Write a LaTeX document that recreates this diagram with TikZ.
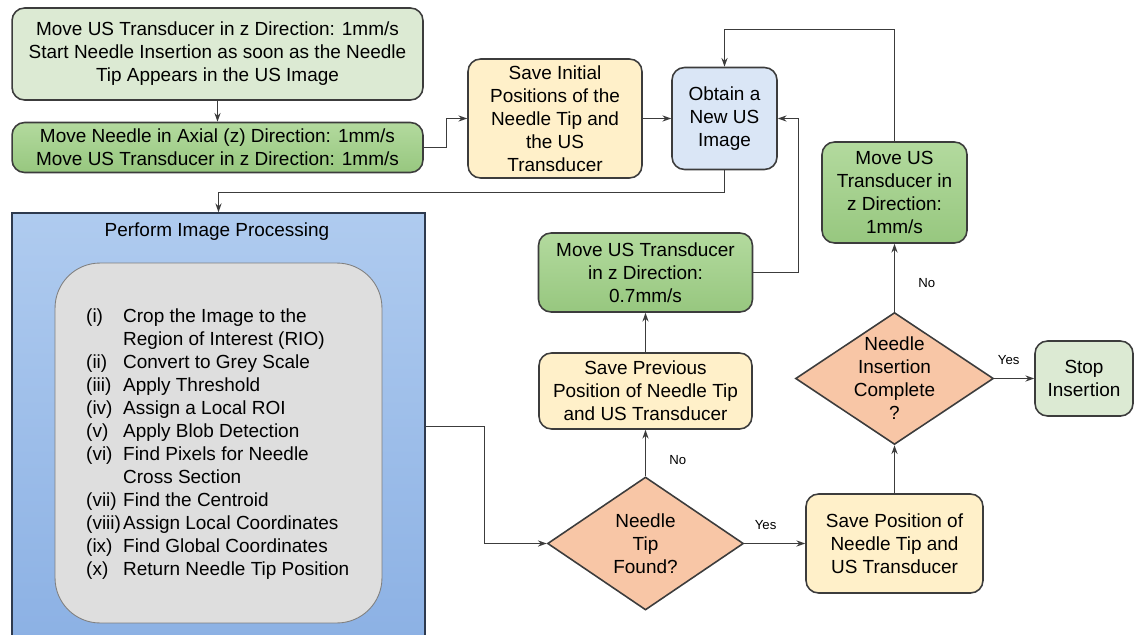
\documentclass[tikz,border=0pt]{standalone}
\usepackage{fontspec}
\setmainfont{Liberation Sans}
\usetikzlibrary{shapes.geometric,arrows.meta}

\definecolor{linegrey}{HTML}{3C3C3C}
\definecolor{palegreen}{HTML}{DCEAD3}
\definecolor{greentop}{HTML}{B3DA9E}
\definecolor{greenbottom}{HTML}{97C77F}
\definecolor{cream}{HTML}{FFF0C9}
\definecolor{paleblue}{HTML}{DAE6F6}
\definecolor{peach}{HTML}{F8C6A6}
\definecolor{stepgrey}{HTML}{DEDEDE}
\definecolor{proctop}{HTML}{AFCBEF}
\definecolor{procbottom}{HTML}{8CB1E4}
\definecolor{procedge}{HTML}{2E3A4E}

\newcommand{\stepitem}[2]{\makebox[0.74cm][l]{#1}#2}
\newcommand{\stepcont}[1]{\hspace*{0.74cm}#1}

\begin{document}
\begin{tikzpicture}[x=0.02cm,y=-0.02cm,
  font=\fontsize{10.8}{13.1}\selectfont,
  box/.style={draw=linegrey,rounded corners=2.5mm,line width=0.9pt,align=center,inner sep=2pt},
  movebox/.style={box,top color=greentop,bottom color=greenbottom},
  decision/.style={draw=linegrey,diamond,fill=peach,line width=0.9pt,inner sep=0pt},
  flow/.style={-{Stealth[length=5pt,width=3.5pt]},draw=linegrey,line width=0.7pt},
  tag/.style={font=\fontsize{7.5}{9}\selectfont}]

\useasboundingbox (0,0) rectangle (1135,635);

%start and first steps
  \node[box,fill=palegreen,minimum width=8.22cm,minimum height=1.84cm] (start) at (217.5,54)
    {Move US Transducer in z Direction: 1mm/s\\Start Needle Insertion as soon as the Needle\\Tip Appears in the US Image};
  \node[movebox,minimum width=8.22cm,minimum height=1.0cm] (insert) at (217.5,147.5)
    {Move Needle in Axial (z) Direction: 1mm/s\\Move US Transducer in z Direction: 1mm/s};
  \node[box,fill=cream,minimum width=3.48cm,minimum height=2.38cm] (initpos) at (555,118.5)
    {Save Initial\\Positions of the\\Needle Tip and\\the US\\Transducer};
  \node[box,fill=paleblue,minimum width=2.1cm,minimum height=2.04cm] (obtain) at (724.5,118.5)
    {Obtain a\\New US\\Image};

%image processing block
  \node[draw=procedge,line width=0.9pt,top color=proctop,bottom color=procbottom,
    minimum width=8.26cm,minimum height=8.54cm] (proc) at (218.5,426.5) {};
  \node (proctitle) at (217,232) {Perform Image Processing};
  \node[draw=gray,fill=stepgrey,line width=0.5pt,rounded corners=0.9cm,
    minimum width=6.54cm,minimum height=7.2cm] (steps) at (218.5,443) {};
  \node[anchor=west,align=left] (steplist) at (80,444) {%
    \stepitem{(i)}{Crop the Image to the}\\
    \stepcont{Region of Interest (RIO)}\\
    \stepitem{(ii)}{Convert to Grey Scale}\\
    \stepitem{(iii)}{Apply Threshold}\\
    \stepitem{(iv)}{Assign a Local ROI}\\
    \stepitem{(v)}{Apply Blob Detection}\\
    \stepitem{(vi)}{Find Pixels for Needle}\\
    \stepcont{Cross Section}\\
    \stepitem{(vii)}{Find the Centroid}\\
    \stepitem{(viii)}{Assign Local Coordinates}\\
    \stepitem{(ix)}{Find Global Coordinates}\\
    \stepitem{(x)}{Return Needle Tip Position}};

%decisions and right hand steps
  \node[decision,minimum width=3.92cm,minimum height=2.66cm,
    label={[align=center]center:{Needle\\Tip\\Found?}}] (found) at (645.5,543.5) {};
  \node[box,fill=cream,minimum width=4.26cm,minimum height=1.52cm] (prevpos) at (645.5,391)
    {Save Previous\\Position of Needle Tip\\and US Transducer};
  \node[movebox,minimum width=4.28cm,minimum height=1.58cm] (slow) at (645.5,272.5)
    {Move US Transducer\\in z Direction:\\0.7mm/s};
  \node[box,fill=cream,minimum width=3.54cm,minimum height=1.98cm] (savepos) at (894.5,543.5)
    {Save Position of\\Needle Tip and\\US Transducer};
  \node[decision,minimum width=3.96cm,minimum height=2.64cm,
    label={[align=center]center:{Needle\\Insertion\\Complete\\?}}] (done) at (894.5,378.5) {};
  \node[movebox,minimum width=2.9cm,minimum height=2.02cm] (fast) at (894.5,192.5)
    {Move US\\Transducer in\\z Direction:\\1mm/s};
  \node[box,fill=palegreen,minimum width=1.96cm,minimum height=1.5cm] (stop) at (1084,378.5)
    {Stop\\Insertion};

%connectors
  \draw[flow] (start) -- (insert);
  \draw[flow] (insert.east) -- ++(23,0) |- (initpos.west);
  \draw[flow] (initpos) -- (obtain);
  \draw[flow] (obtain.south) -- ++(0,22) -| (proc.north);
  \draw[flow] (proc.east) -- ++(59,0) |- (found.west);
  \draw[flow] (found.north) -- node[tag,right=0.35cm,pos=0.35] {No} (prevpos.south);
  \draw[flow] (prevpos) -- (slow);
  \draw[flow] (slow.east) -- ++(45,0) |- (obtain.east);
  \draw[flow] (found.east) -- node[tag,above=0.15cm,pos=0.35] {Yes} (savepos.west);
  \draw[flow] (savepos) -- (done.south);
  \draw[flow] (done.north) -- node[tag,right=0.35cm,pos=0.42] {No} (fast.south);
  \draw[flow] (fast.north) -- ++(0,-112) -| (obtain.north);
  \draw[flow] (done.east) -- node[tag,above=0.15cm,pos=0.36] {Yes} (stop.west);

\end{tikzpicture}
\end{document}
